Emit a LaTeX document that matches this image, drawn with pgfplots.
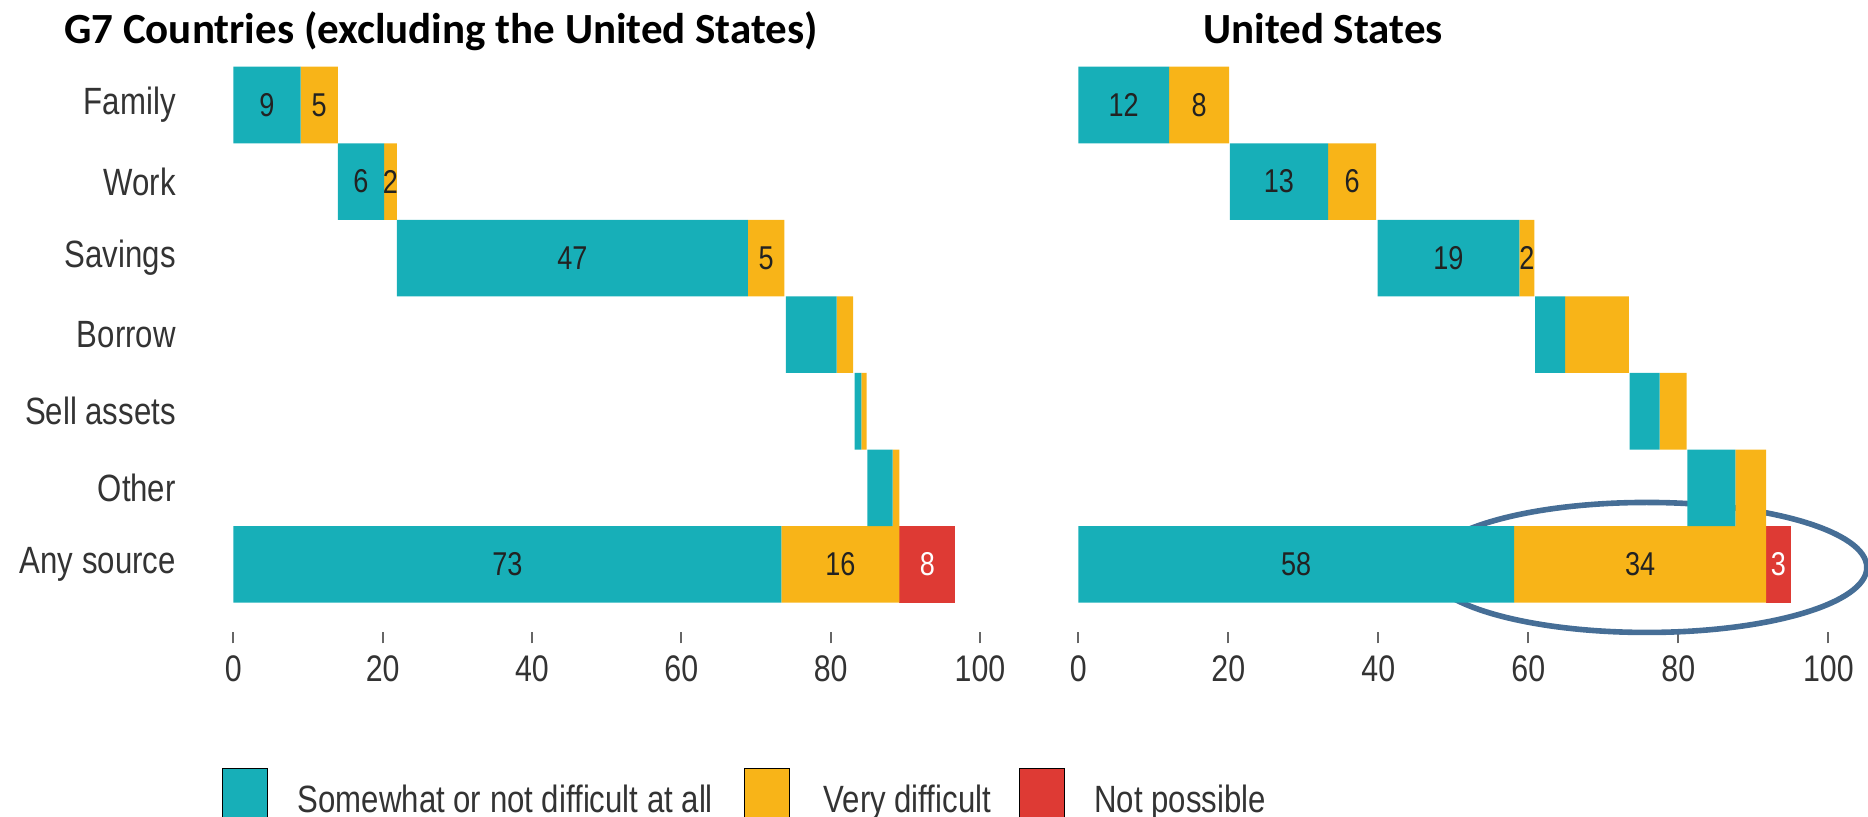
\documentclass[border=0pt]{standalone}
\usepackage{fontspec}
\setmainfont{Liberation Sans}[FakeStretch=0.82]
\newfontfamily\titlefont{Carlito}
\usepackage{pgfplots}
\usepackage{pgfplotstable}
\pgfplotsset{compat=1.18}
\definecolor{cteal}{HTML}{17AFB8}
\definecolor{corange}{HTML}{F8B418}
\definecolor{cred}{HTML}{DE3A34}
\definecolor{cellipse}{HTML}{466E96}
\definecolor{ctext}{HTML}{333333}
\definecolor{clab}{HTML}{222222}

% G7 excluding US: offset, somewhat/not difficult, very difficult, not possible
\pgfplotstableread{
y off a b c la lb lc
6 0 9 5 0 9 5 {}
5 14 6.2 1.7 0 6 2 {}
4 21.9 47 4.9 0 47 5 {}
3 74 6.8 2.2 0 {} {} {}
2 83.2 0.9 0.7 0 {} {} {}
1 84.9 3.4 0.9 0 {} {} {}
0 0 73.4 15.8 7.5 73 16 8
}\dleft
% United States
\pgfplotstableread{
y off a b c la lb lc
6 0 12.1 8 0 12 8 {}
5 20.2 13.1 6.4 0 13 6 {}
4 39.9 18.9 2 0 19 2 {}
3 60.9 4 8.5 0 {} {} {}
2 73.5 4 3.6 0 {} {} {}
1 81.2 6.4 4.1 0 {} {} {}
0 0 58.1 33.6 3.3 58 34 3
}\dright

\pgfplotsset{
  panel/.style={
    xbar stacked, bar width=1,
    scale only axis, height=282.5pt,
    xmin=0, xmax=100, ymin=-0.879, ymax=6.5,
    clip=false,
    axis lines*=left,
    axis line style={draw=none},
    xtick={0,20,...,100},
    tick align=outside, major tick length=5.8pt,
    xtick style={draw=black!60, line width=1pt},
    ytick style={draw=none},
    /pgf/number format/assume math mode=true,
    xticklabel style={font=\fontsize{18.5}{22}\selectfont, text=ctext, anchor=north, inner sep=0pt, yshift=-5.85pt},
    yticklabel style={font=\fontsize{19}{22}\selectfont, text=ctext, anchor=east, inner sep=0pt, xshift=-22.8pt},
    legend image code/.code={\fill[##1] (0pt,-13pt) rectangle (22.5pt,14.8pt);},
  },
  seg/.style={fill=#1, draw=none, forget plot},
  lab/.style={nodes near coords, point meta=explicit symbolic,
    every node near coord/.style={anchor=center,
      font=\fontsize{16.5}{18}\selectfont, text=#1, inner sep=0pt}},
}

\begin{document}
\begin{tikzpicture}
\path[use as bounding box] (0,0) rectangle (934pt,408.5pt);

\begin{axis}[panel, at={(116.65pt,92.65pt)}, anchor=south west, width=373.35pt,
  ytick={0,...,6},
  yticklabels={Any source, Other, Sell assets, Borrow, Savings, Work, Family},
  legend columns=3,
  legend cell align=left,
  legend style={at={(axis description cs:-0.0151,-0.2412)}, anchor=north west,
    draw=none, fill=none, inner sep=0pt, outer sep=0pt,
    font=\fontsize{19}{22.8}\selectfont,
    nodes={inner sep=0pt, text=ctext},
    /tikz/every odd column/.append style={column sep=15pt},
    /tikz/every even column/.append style={column sep=12.5pt}},
]
\addplot[draw=none, fill=none, forget plot] table[x=off, y=y] {\dleft};
\addplot[seg=cteal, lab=clab] table[x=a, y=y, meta=la] {\dleft};
\addplot[seg=corange, lab=clab] table[x=b, y=y, meta=lb] {\dleft};
\addplot[seg=cred, lab=white] table[x=c, y=y, meta=lc] {\dleft};
\addlegendimage{fill=cteal}
\addlegendentry{\makebox[210.5pt][l]{\strut Somewhat or not difficult at all}}
\addlegendimage{fill=corange}
\addlegendentry{\makebox[87pt][l]{\strut\hspace*{2pt}Very difficult}}
\addlegendimage{fill=cred}
\addlegendentry{\makebox[86.5pt][l]{\strut Not possible}}
\end{axis}

\begin{axis}[panel, at={(539.15pt,92.65pt)}, anchor=south west, width=375pt,
  ytick=\empty]
\addplot[draw=none, fill=none, forget plot] table[x=off, y=y] {\dright};
\addplot[seg=cteal, lab=clab] table[x=a, y=y, meta=la] {\dright};
\addplot[seg=corange, lab=clab] table[x=b, y=y, meta=lb] {\dright};
\addplot[seg=cred, lab=white] table[x=c, y=y, meta=lc] {\dright};
\draw[cellipse, line width=2.8pt] (axis cs:75.8,-0.04) ellipse [x radius=110pt, y radius=32.5pt];
\end{axis}

\node[anchor=base west, inner sep=0pt, font=\titlefont\bfseries\fontsize{21.5}{24}\selectfont] at (31.9pt,386.5pt) {G7 Countries (excluding the United States)};
\node[anchor=base west, inner sep=0pt, font=\titlefont\bfseries\fontsize{21.5}{24}\selectfont] at (601.5pt,386.5pt) {United States};
\end{tikzpicture}
\end{document}
